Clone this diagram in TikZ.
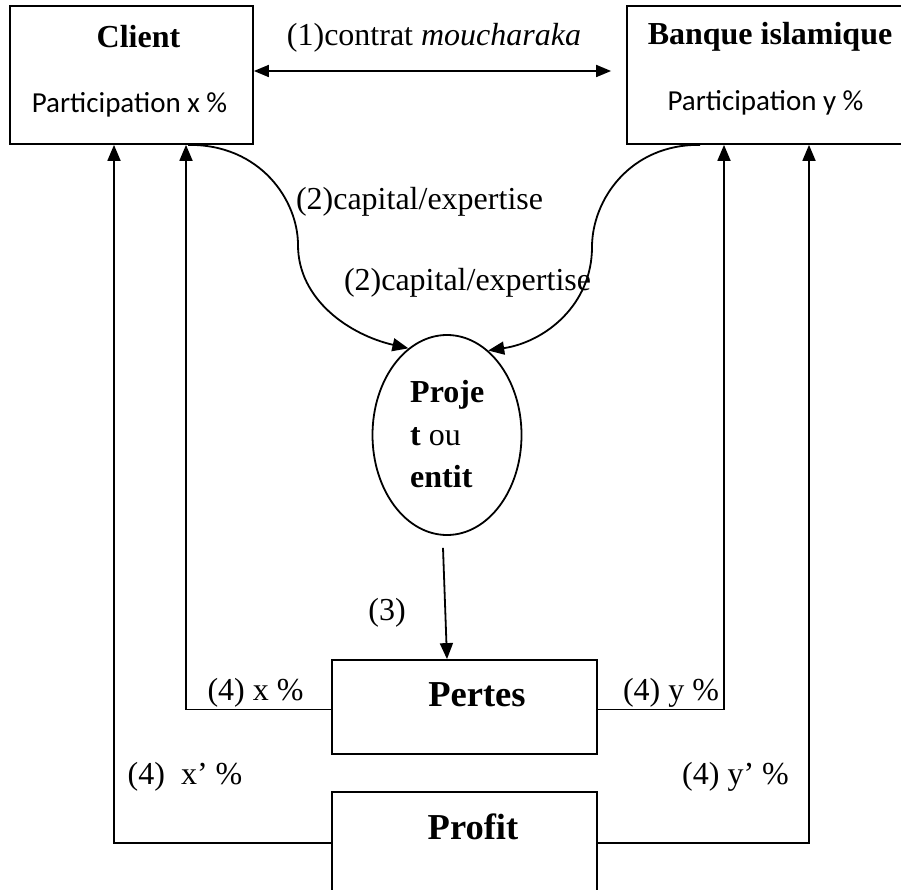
\documentclass[tikz,border=0pt]{standalone}
\usepackage{fontspec}
\setmainfont{Liberation Serif}
\newfontfamily\calibrifont{Carlito}
\usetikzlibrary{arrows.meta,shapes.geometric}
\begin{document}
\begin{tikzpicture}[x=1pt,y=-1pt,
  box/.style={draw,line width=1.8pt,rectangle,inner sep=0pt},
  arr/.style={line width=1.8pt,-{Triangle[length=16pt,width=13pt]}},
  darr/.style={line width=1.8pt,{Triangle[length=15pt,width=12pt]}-{Triangle[length=15pt,width=12pt]}},
  tx/.style={inner sep=0pt,font=\fontsize{32}{38}\selectfont},
  btx/.style={inner sep=0pt,font=\fontsize{32}{38}\selectfont\bfseries},
  bigtx/.style={inner sep=0pt,font=\fontsize{36.5}{42}\selectfont\bfseries},
  stx/.style={inner sep=0pt,font=\fontsize{29}{34}\selectfont\calibrifont}]
\clip (0,0) rectangle (901,890);
% boxes
\node[box,minimum width=243pt,minimum height=138pt] (client) at (131.5,75) {};
\node[box,minimum width=286pt,minimum height=138pt] (bank) at (770,75) {};
\node[draw,ellipse,line width=1.8pt,inner sep=0pt,minimum width=149pt,minimum height=200pt] (proj) at (447,435) {};
\node[box,minimum width=265pt,minimum height=94pt] (pertes) at (464.5,707) {};
\node[box,minimum width=265pt,minimum height=102pt] (profit) at (464.5,843) {};
% box texts
\node[btx] (clientt) at (138.5,37) {Client};
\node[stx] (clientp) at (129.5,105) {Participation x \%};
\node[btx] (bankt) at (770,37) {Banque islamique};
\node[stx] (bankp) at (765.5,103) {Participation y \%};
\node[btx,anchor=base west] (proj1) at (410,402) {Proje};
\node[tx,anchor=base west] (proj2) at (410,445) {\textbf{t} ou};
\node[btx,anchor=base west] (proj3) at (410,487) {entit};
\node[bigtx] (pertest) at (477,695) {Pertes};
\node[bigtx] (profitt) at (473,827) {Profit};
% connectors
\draw[darr] ([yshift=4pt]client.east) -- ([xshift=-15pt,yshift=4pt]bank.west);
\draw[arr] ([xshift=56.5pt]client.south) .. controls (260,144) and (298,200) .. (298,245)
  .. controls (298,300) and (350,335) .. (proj.114);
\draw[arr] ([xshift=-70pt]bank.south) .. controls (630,144) and (592,200) .. (592,247)
  .. controls (592,305) and (545,342) .. (proj.64);
\draw[arr] ([xshift=-4pt,yshift=-12pt]proj.south) -- ([xshift=-17.5pt]pertes.north);
\draw[arr] ([yshift=-2.5pt]pertes.west) -| ([xshift=54.5pt]client.south);
\draw[arr] ([yshift=-2.5pt]pertes.east) -| ([xshift=-46pt]bank.south);
\draw[arr] (profit.west) -| ([xshift=-17.5pt]client.south);
\draw[arr] (profit.east) -| ([xshift=39pt]bank.south);
% labels
\node[tx] (l1) at (434,38) {(1)contrat \textit{moucharaka}};
\node[tx] (l2a) at (419.5,202) {(2)capital/expertise};
\node[tx] (l2b) at (467.5,283) {(2)capital/expertise};
\node[tx] (l3) at (387,613) {(3)};
\node[tx] (l4a) at (255.5,693) {(4) x \%};
\node[tx] (l4b) at (671,693) {(4) y \%};
\node[tx] (l4c) at (185,777) {(4)~~x’ \%};
\node[tx] (l4d) at (735.5,777) {(4) y’ \%};
\end{tikzpicture}
\end{document}
